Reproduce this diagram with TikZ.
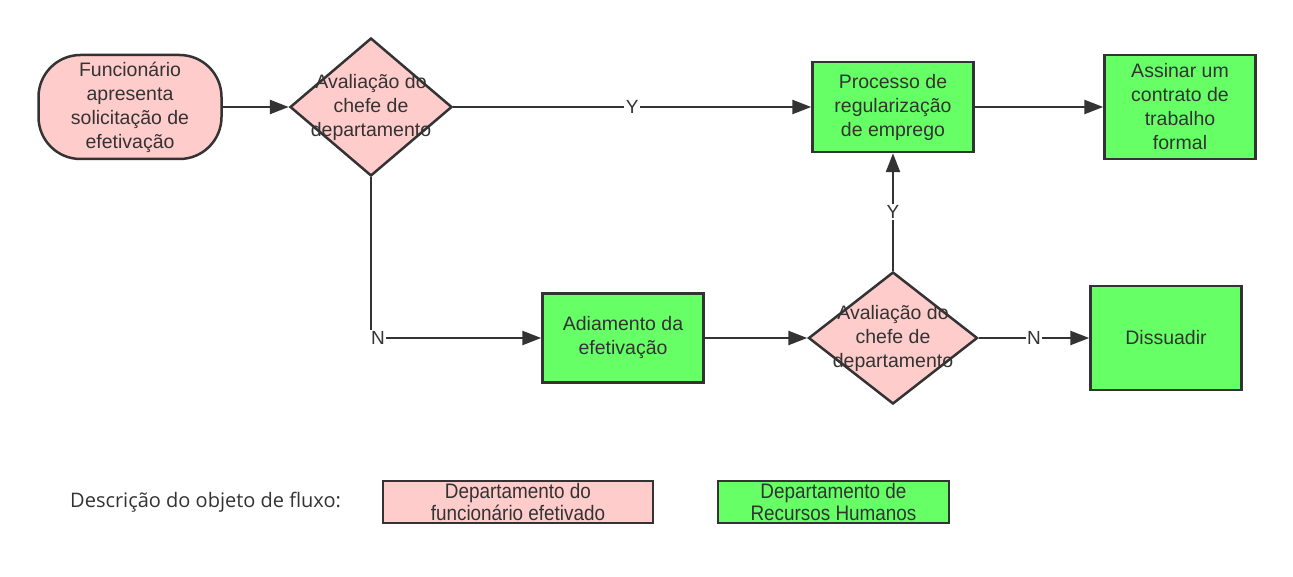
\documentclass[tikz,border=0pt]{standalone}
\usepackage{fontspec}
\setmainfont{Liberation Sans}
\newfontfamily\legendfont{Open Sans}
\newfontfamily\narrowfont[FakeStretch=0.9]{Liberation Sans}
\usetikzlibrary{shapes.geometric,arrows.meta}
\definecolor{pinkfill}{HTML}{FFCCCC}
\definecolor{greenfill}{HTML}{66FF66}
\definecolor{ink}{HTML}{333333}
\tikzset{
  base/.style={draw=ink, line width=2.5pt, text=ink, inner sep=0pt, align=center,
    font=\fontsize{19.5}{24}\selectfont},
  terminal/.style={base, fill=pinkfill, rounded corners=42pt},
  pbox/.style={base, fill=greenfill, rectangle},
  dec/.style={base, fill=pinkfill, diamond},
  txt/.style={text=ink, align=center, font=\fontsize{19.5}{24}\selectfont},
  conn/.style={draw=ink, line width=2.5pt, -{Triangle[length=19pt,width=14pt]}},
  lbl/.style={fill=white, text=ink, inner sep=1.5pt, font=\fontsize{19}{20}\selectfont},
  legbox/.style={draw=ink, line width=2pt, text=ink, align=center, inner sep=0pt,
    font=\narrowfont\fontsize{21}{22}\selectfont},
}
\begin{document}
\begin{tikzpicture}[x=1pt,y=-1pt]
\useasboundingbox[fill=white] (0,0) rectangle (1293,577);

\node[terminal, minimum width=183pt, minimum height=104pt] (start) at (130,107)
  {Funcionário\\apresenta\\solicitação de\\efetivação};
\node[dec, minimum width=162pt, minimum height=138pt] (d1) at (371,107) {};
\node[txt] at (371,107) {Avaliação do\\chefe de\\departamento};
\node[pbox, minimum width=161pt, minimum height=90pt] (proc) at (893,107)
  {Processo de\\regularização\\de emprego};
\node[pbox, minimum width=151pt, minimum height=104pt] (sign) at (1180,107)
  {Assinar um\\contrato de\\trabalho\\formal};
\node[pbox, minimum width=161pt, minimum height=89pt] (adi) at (623,338)
  {Adiamento da\\efetivação};
\node[dec, minimum width=169pt, minimum height=132pt] (d2) at (893,338) {};
\node[txt] at (893,338) {Avaliação do\\chefe de\\departamento};
\node[pbox, minimum width=151pt, minimum height=104pt] (dis) at (1166,338)
  {Dissuadir};

\draw[conn] (start.east) -- (d1.west);
\draw[conn] (d1.east) -- node[lbl, pos=0.5] {Y} (proc.west);
\draw[conn] (proc.east) -- (sign.west);
\draw[conn] (d1.south) |- node[lbl, pos=0.5, xshift=7pt] {N} (adi.west);
\draw[conn] (adi.east) -- (d2.west);
\draw[conn] (d2.north) -- node[lbl, pos=0.5] {Y} (proc.south);
\draw[conn] (d2.east) -- node[lbl, pos=0.5] {N} (dis.west);

\node[text=ink, anchor=west, inner sep=0pt, font=\legendfont\fontsize{20}{22}\selectfont] (legt) at (70,502)
  {Descrição do objeto de fluxo:};
\node[legbox, fill=pinkfill, minimum width=270pt, minimum height=42pt] (legp) at (518,502)
  {Departamento do\\funcionário efetivado};
\node[legbox, fill=greenfill, minimum width=231pt, minimum height=42pt] (legg) at (833.5,502)
  {Departamento de\\Recursos Humanos};
\end{tikzpicture}
\end{document}
